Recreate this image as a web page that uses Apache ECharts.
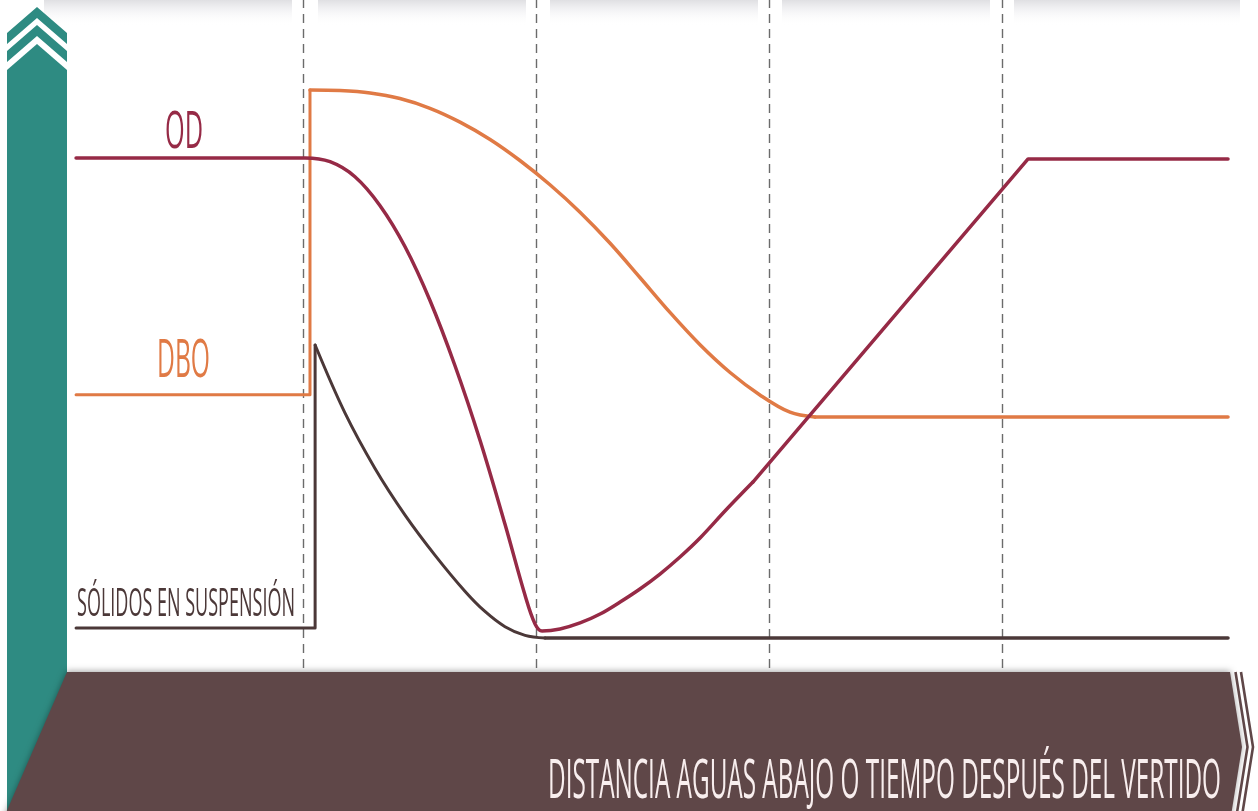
<!DOCTYPE html>
<html>
<head>
<meta charset="utf-8">
<script src="https://cdn.jsdelivr.net/npm/echarts@6/dist/echarts.min.js"></script>
<style>
  html, body { margin: 0; padding: 0; background: #ffffff; }
  #chart { width: 1258px; height: 811px; }
</style>
</head>
<body>
<div id="chart"></div>
<script>
// Oxygen-sag diagram: dissolved oxygen (OD), BOD (DBO) and suspended solids
// along the river after a discharge. X: distance / time (4 dashed stages),
// Y: relative level (0-100).

const stageDividers = [10, 20, 30, 40];

// OD (dissolved oxygen)
const odCurve = [
  [0.26, 76.35], [10.09, 76.35], [11.16, 75.79], [12.23, 73.54], [13.3, 69.24], [14.38, 63.06],
  [15.45, 55.01], [16.52, 45.28], [17.6, 34.06], [18.67, 21.52], [19.53, 10.89], [19.96, 6.59],
  [20.26, 5.54], [21.03, 5.84], [21.89, 6.74], [22.75, 8.08], [23.61, 9.88], [24.46, 11.83],
  [25.32, 14.07], [26.18, 16.62], [27.04, 19.46], [28.15, 23.65], [29.31, 27.84]
];
const odRecovery = [[29.31, 27.84], [41.12, 76.2], [49.7, 76.2]];

// DBO (biochemical oxygen demand)
const dboStep = [[0.26, 40.9], [10.3, 40.9], [10.3, 86.53]];
const dboCurve = [
  [10.3, 86.53], [11.59, 86.44], [12.88, 86.08], [14.16, 85.25], [15.45, 83.79], [16.74, 81.72],
  [18.03, 79.12], [19.31, 75.97], [20.6, 72.34], [21.89, 68.23], [23.18, 63.58], [24.46, 58.46],
  [25.75, 53.23], [27.04, 48.4], [28.33, 44.24], [29.61, 40.88], [30.9, 38.29], [31.97, 37.57]
];
const dboTail = [[31.97, 37.57], [49.7, 37.57]];

// Sólidos en suspensión
const solStep = [[0.26, 6.0], [10.52, 6.0], [10.52, 48.35]];
const solCurve = [
  [10.52, 48.35], [11.8, 38.19], [13.09, 29.88], [14.38, 22.9], [15.67, 16.87], [16.95, 11.5],
  [17.81, 8.46], [18.67, 6.18], [19.53, 4.88], [20.39, 4.49]
];
const solTail = [[20.39, 4.49], [49.7, 4.49]];

const labelOD = 'OD';
const labelDBO = 'DBO';
const labelSol = 'SÓLIDOS EN SUSPENSIÓN';
const axisTitle = 'DISTANCIA AGUAS ABAJO O TIEMPO DESPUÉS DEL VERTIDO';

const C_OD = '#962a46';
const C_DBO = '#e07a45';
const C_SOL = '#4b3838';
const C_TEAL = '#2e8b82';
const C_BAND = '#5f4748';

const FONT = '"Open Sans", "Noto Sans", sans-serif';
const measureCtx = document.createElement('canvas').getContext('2d');

// Condensed label: fits text into a box via horizontal scaling
function fittedText(text, left, right, capTop, capBottom, color, z) {
  const size = (capBottom - capTop) / 0.714;
  measureCtx.font = size + 'px ' + FONT;
  const w = measureCtx.measureText(text).width;
  return {
    type: 'text', x: left, y: (capTop + capBottom) / 2 - 0.03 * size,
    scaleX: (right - left) / w, z: z || 10, silent: true,
    style: { text: text, x: 0, y: 0, fill: color, font: size + 'px ' + FONT,
             textAlign: 'left', textVerticalAlign: 'middle', verticalAlign: 'middle' }
  };
}

function lineSeries(data, color, smooth, width) {
  return {
    type: 'line', data: data, smooth: smooth,
    showSymbol: false, symbol: 'none',
    lineStyle: { color: color, width: width, cap: 'round', join: 'round' },
    silent: true, animation: false, z: 5
  };
}

const chart = echarts.init(document.getElementById('chart'), null, { renderer: 'canvas' });

// soft shaded header tabs along the top edge
const header = [];
const boxEdges = [[44, 292], [318, 526], [550, 758], [782, 990], [1014, 1240]];
boxEdges.forEach(function (b) {
  header.push({
    type: 'rect', shape: { x: b[0], y: 0, width: b[1] - b[0], height: 26 }, z: 1, silent: true,
    style: {
      fill: new echarts.graphic.LinearGradient(0, 0, 0, 1, [
        { offset: 0, color: 'rgba(150,150,160,0.30)' },
        { offset: 0.5, color: 'rgba(190,190,200,0.12)' },
        { offset: 1, color: 'rgba(255,255,255,0)' }
      ])
    }
  });
});

const decorations = header.concat([
  // teal vertical arrow on the left
  { type: 'polygon', z: 2, silent: true, shape: { points: [[7, 33], [37, 7], [67, 33], [67, 44], [37, 18], [7, 44]] }, style: { fill: C_TEAL } },
  { type: 'polygon', z: 2, silent: true, shape: { points: [[7, 51], [37, 25], [67, 51], [67, 62], [37, 36], [7, 62]] }, style: { fill: C_TEAL } },
  { type: 'polygon', z: 2, silent: true, shape: { points: [[7, 70], [37, 44], [67, 70], [67, 811], [7, 811]] }, style: { fill: C_TEAL } },
  // brown band along the bottom
  { type: 'polygon', z: 3, silent: true,
    shape: { points: [[67, 672], [1230, 672], [1242, 747], [1230, 822], [2, 822]] },
    style: { fill: C_BAND, shadowBlur: 6, shadowColor: 'rgba(0,0,0,0.35)', shadowOffsetY: -1 } },
  { type: 'polyline', z: 3, silent: true, shape: { points: [[1235.5, 672], [1247.5, 747], [1235.5, 822]] },
    style: { stroke: C_BAND, lineWidth: 2.6, fill: null } },
  { type: 'polyline', z: 3, silent: true, shape: { points: [[1241, 672], [1253, 747], [1241, 822]] },
    style: { stroke: C_BAND, lineWidth: 2.6, fill: null } },
  fittedText(axisTitle, 548, 1221, 765, 804, '#f8eeee', 12),
  fittedText(labelOD, 165, 203, 116, 153, C_OD),
  fittedText(labelDBO, 157, 210, 344, 382, C_DBO),
  fittedText(labelSol, 77, 295, 593, 620, C_SOL)
]);

const option = {
  backgroundColor: '#ffffff',
  animation: false,
  grid: { left: 70, right: 23, top: 0, bottom: 143 },
  xAxis: { type: 'value', min: 0, max: 50, interval: 10, show: false },
  yAxis: { type: 'value', min: 0, max: 100, interval: 10, show: false },
  graphic: { elements: decorations },
  series: [
    {
      type: 'line', data: [], silent: true, z: 1,
      markLine: {
        silent: true, symbol: ['none', 'none'], label: { show: false },
        lineStyle: { color: '#6b6b6b', width: 1.4, type: [9, 6] },
        data: stageDividers.map(function (v) { return { xAxis: v }; })
      }
    },
    lineSeries(solStep, C_SOL, false, 3),
    lineSeries(solCurve, C_SOL, 0.35, 3),
    lineSeries(solTail, C_SOL, false, 3.5),
    lineSeries(dboStep, C_DBO, false, 3),
    lineSeries(dboCurve, C_DBO, 0.35, 3.5),
    lineSeries(dboTail, C_DBO, false, 3.5),
    lineSeries(odCurve, C_OD, 0.35, 3.5),
    lineSeries(odRecovery, C_OD, false, 3.5)
  ]
};

chart.setOption(option);
</script>
</body>
</html>
